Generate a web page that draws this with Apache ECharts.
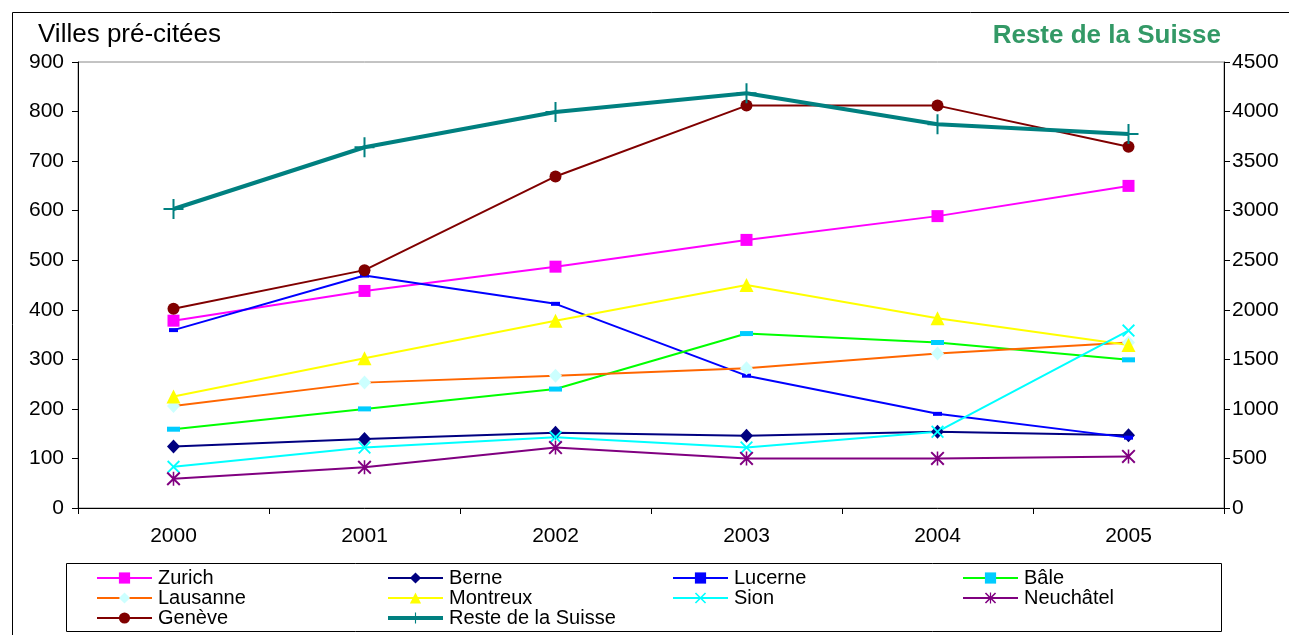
<!DOCTYPE html>
<html>
<head>
<meta charset="utf-8">
<title>Villes pré-citées / Reste de la Suisse</title>
<script src="https://cdn.jsdelivr.net/npm/echarts@6/dist/echarts.min.js"></script>
<style>
  html, body { margin: 0; padding: 0; background: #fff; }
  #chart { width: 1289px; height: 635px; }
</style>
</head>
<body>
<div id="chart"></div>
<script>
// Years on the category axis
const years = ['2000', '2001', '2002', '2003', '2004', '2005'];

// Cities (left axis)
const zurich    = [378, 438, 487, 541, 589, 650];
const berne     = [124, 139, 152, 146, 154, 147];
const lucerne   = [359, 469, 412, 267, 190, 142];
const bale      = [159, 200, 240, 352, 334, 299];
const lausanne  = [206, 253, 267, 282, 312, 334];
const montreux  = [225, 302, 378, 450, 383, 329];
const sion      = [83, 122, 143, 122, 154, 358];
const neuchatel = [59, 82, 122, 100, 100, 104];
const geneve    = [402, 480, 669, 812, 812, 729];

// Rest of Switzerland (right axis)
const resteSuisse = [3017, 3640, 3996, 4184, 3871, 3774];

// Axis tick settings
const leftTicks  = { min: 0, max: 900, interval: 100 };
const rightTicks = { min: 0, max: 4500, interval: 500 };

const FONT = 'Liberation Sans, Arial, sans-serif';

// Marker shapes drawn as filled outlines in a 10x10 box
const SYM_X = 'path://M0,1 L1,0 L5,4 L9,0 L10,1 L6,5 L10,9 L9,10 L5,6 L1,10 L0,9 L4,5 Z';
const SYM_STAR = 'path://M0,1 L1,0 L5,4 L9,0 L10,1 L6,5 L10,9 L9,10 L5,6 L1,10 L0,9 L4,5 Z M4.45,0 L5.55,0 L5.55,10 L4.45,10 Z';
const SYM_PLUS = 'path://M4.5,0 L5.5,0 L5.5,4.5 L10,4.5 L10,5.5 L5.5,5.5 L5.5,10 L4.5,10 L4.5,5.5 L0,5.5 L0,4.5 L4.5,4.5 Z';

function city(name, data, lineColor, markColor, symbol, size) {
  return {
    name: name,
    type: 'line',
    yAxisIndex: 0,
    data: data,
    symbol: symbol,
    symbolSize: size,
    showAllSymbol: true,
    lineStyle: { color: lineColor, width: 2 },
    itemStyle: { color: markColor, borderWidth: 0 },
    emphasis: { disabled: true },
    animation: false
  };
}

const series = [
  city('Zurich', zurich, '#FF00FF', '#FF00FF', 'rect', 12),
  city('Berne', berne, '#000080', '#000080', 'diamond', [13, 14]),
  city('Lucerne', lucerne, '#0000FF', '#0000FF', 'rect', [9, 4]),
  city('Bâle', bale, '#00FF00', '#00CCFF', 'rect', [13, 5]),
  city('Lausanne', lausanne, '#FF6600', '#CCFFFF', 'diamond', [13, 14]),
  city('Montreux', montreux, '#FFFF00', '#FFFF00', 'triangle', 14),
  city('Sion', sion, '#00FFFF', '#00FFFF', SYM_X, 13),
  city('Neuchâtel', neuchatel, '#800080', '#800080', SYM_STAR, 14),
  city('Genève', geneve, '#800000', '#800000', 'circle', 12),
  {
    name: 'Reste de la Suisse',
    type: 'line',
    yAxisIndex: 1,
    data: resteSuisse,
    symbol: SYM_PLUS,
    symbolSize: 20,
    showAllSymbol: true,
    lineStyle: { color: '#008080', width: 4 },
    itemStyle: { color: '#008080', borderWidth: 0 },
    emphasis: { disabled: true },
    animation: false
  }
];

// Legend laid out in four columns, three rows
const legendCols = [
  { left: 96,  names: ['Zurich', 'Lausanne', 'Genève'] },
  { left: 386, names: ['Berne', 'Montreux', { name: 'Reste de la Suisse', lineStyle: { width: 4 } }] },
  { left: 672, names: ['Lucerne', 'Sion'] },
  { left: 962, names: ['Bâle', 'Neuchâtel'] }
];
const legends = legendCols.map(c => ({
  orient: 'vertical',
  left: c.left,
  top: 568,
  padding: 0,
  height: 70,
  itemWidth: 55,
  itemHeight: 14,
  itemGap: 0,
  selectedMode: false,
  data: c.names,
  textStyle: { fontFamily: FONT, fontSize: 20, lineHeight: 19.5, color: '#000', padding: [0, 0, 0, 1] }
}));

const axisLine = { show: true, onZero: false, lineStyle: { color: '#000', width: 1 } };
const axisTick = { show: true, inside: false, length: 6, lineStyle: { color: '#000' } };
const axisLabel = { fontFamily: FONT, fontSize: 21, color: '#000' };

const chart = echarts.init(document.getElementById('chart'), null, { renderer: 'canvas' });
chart.setOption({
  animation: false,
  backgroundColor: '#fff',
  grid: {
    left: 78, right: 65, top: 62, bottom: 127,
    show: true, borderColor: '#888', borderWidth: 1, backgroundColor: 'transparent'
  },
  legend: legends,
  xAxis: {
    type: 'category',
    data: years,
    boundaryGap: true,
    axisLine: axisLine,
    axisTick: Object.assign({}, axisTick, { alignWithLabel: false }),
    axisLabel: Object.assign({}, axisLabel, { margin: 18 }),
    splitLine: { show: false }
  },
  yAxis: [
    {
      type: 'value',
      position: 'left',
      min: leftTicks.min, max: leftTicks.max, interval: leftTicks.interval,
      axisLine: axisLine,
      axisTick: axisTick,
      axisLabel: Object.assign({}, axisLabel, { margin: 14, formatter: v => String(v) }),
      splitLine: { show: false }
    },
    {
      type: 'value',
      position: 'right',
      min: rightTicks.min, max: rightTicks.max, interval: rightTicks.interval,
      axisLine: axisLine,
      axisTick: axisTick,
      axisLabel: Object.assign({}, axisLabel, { margin: 8, formatter: v => String(v) }),
      splitLine: { show: false }
    }
  ],
  graphic: [
    {
      type: 'rect', silent: true, z: -1,
      shape: { x: 12.5, y: 12.5, width: 1400, height: 800 },
      style: { fill: 'none', stroke: '#000', lineWidth: 1 }
    },
    {
      type: 'rect', silent: true,
      shape: { x: 66.5, y: 563.5, width: 1155, height: 68 },
      style: { fill: 'none', stroke: '#000', lineWidth: 1 }
    },
    {
      type: 'text', silent: true,
      left: 38, top: 22,
      style: { text: 'Villes pré-citées', font: '26px ' + FONT, fill: '#000' }
    },
    {
      type: 'text', silent: true,
      right: 68, top: 23,
      style: { text: 'Reste de la Suisse', font: 'bold 26px ' + FONT, fill: '#339966' }
    }
  ],
  series: series
});
</script>
</body>
</html>
